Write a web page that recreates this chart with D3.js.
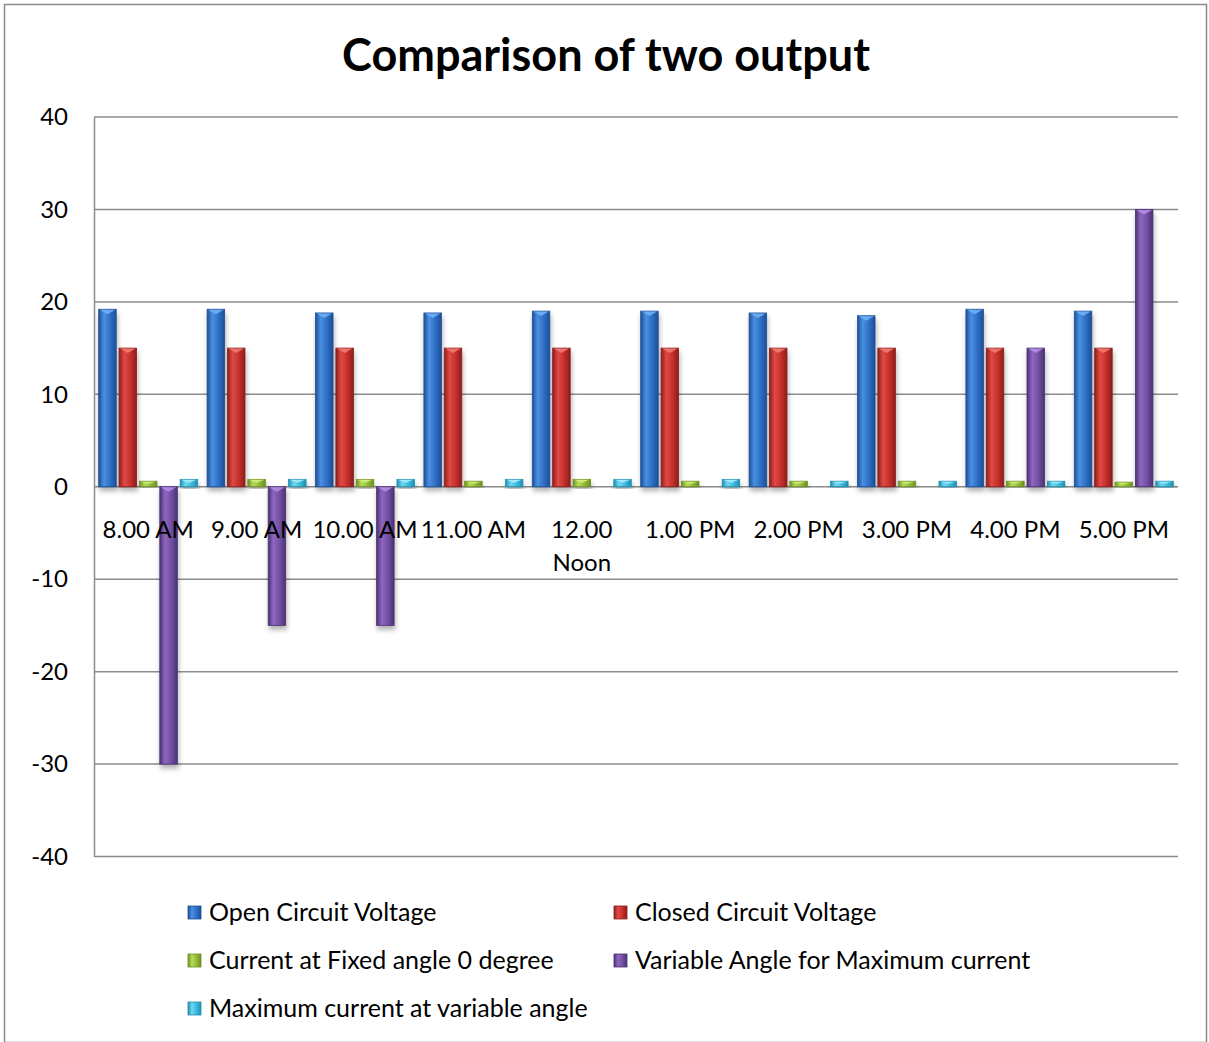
<!DOCTYPE html>
<html>
<head>
<meta charset="utf-8">
<script src="https://cdn.jsdelivr.net/npm/d3@7/dist/d3.min.js"></script>
<style>
  html, body { margin: 0; padding: 0; background: #fff; }
  svg { display: block; font-family: Lato, "Open Sans", sans-serif; }
</style>
</head>
<body>
<svg id="chart" width="1209" height="1042"></svg>
<script>
// Time slots along the x axis (multi-line labels split on "\n")
const categories = ["8.00 AM", "9.00 AM", "10.00 AM", "11.00 AM", "12.00\nNoon",
                    "1.00 PM", "2.00 PM", "3.00 PM", "4.00 PM", "5.00 PM"];

const seriesNames = [
  "Open Circuit Voltage",
  "Closed Circuit Voltage",
  "Current at Fixed angle 0 degree",
  "Variable Angle for Maximum current",
  "Maximum current at variable angle"
];

const openCircuitVoltage   = [19.2, 19.2, 18.8, 18.8, 19.0, 19.0, 18.8, 18.5, 19.2, 19.0];
const closedCircuitVoltage = [15, 15, 15, 15, 15, 15, 15, 15, 15, 15];
const currentFixedAngle    = [0.6, 0.8, 0.8, 0.6, 0.8, 0.6, 0.6, 0.6, 0.6, 0.5];
const variableAngle        = [-30, -15, -15, 0, 0, 0, 0, 0, 15, 30];
const maxCurrentVariable   = [0.8, 0.8, 0.8, 0.8, 0.8, 0.8, 0.6, 0.6, 0.6, 0.6];

const yTicks = [-40, -30, -20, -10, 0, 10, 20, 30, 40];

const seriesValues = [openCircuitVoltage, closedCircuitVoltage, currentFixedAngle,
                      variableAngle, maxCurrentVariable];

// Fill shades per series: [edge, highlight, body, tip]
const palette = [
  ["#1d4f98", "#4a90e2", "#2f6fc4", "#6fb0f5"],
  ["#8c1e1b", "#e04a45", "#c5302c", "#f07a72"],
  ["#6e8f22", "#b6dc5a", "#93bb3a", "#d2f07c"],
  ["#4b3174", "#8f67c0", "#7350a4", "#b38de6"],
  ["#1f8fb0", "#6fd8f2", "#3cbcdd", "#a6ecfb"]
];

const svg = d3.select("#chart");
const W = 1209, H = 1042;
const plot = { left: 94, right: 1178, top: 117, bottom: 856.5 };

const defs = svg.append("defs");
palette.forEach((c, i) => {
  const g = defs.append("linearGradient").attr("id", "grad" + i)
    .attr("x1", "0%").attr("x2", "100%").attr("y1", "0%").attr("y2", "0%");
  g.append("stop").attr("offset", "0%").attr("stop-color", c[0]);
  g.append("stop").attr("offset", "30%").attr("stop-color", c[1]);
  g.append("stop").attr("offset", "65%").attr("stop-color", c[2]);
  g.append("stop").attr("offset", "100%").attr("stop-color", c[0]);
});
const shadow = defs.append("filter").attr("id", "shadow")
  .attr("x", "-50%").attr("y", "-10%").attr("width", "200%").attr("height", "130%");
shadow.append("feDropShadow").attr("dx", 1).attr("dy", 4).attr("stdDeviation", 2.5)
  .attr("flood-color", "#000").attr("flood-opacity", 0.3);

// Outer frame
svg.append("rect").attr("x", 4.5).attr("y", 4.5).attr("width", W - 7).attr("height", H - 4)
  .attr("fill", "#fff").attr("stroke", "#8a8a8a").attr("stroke-width", 1.5);

// Title
svg.append("text").attr("x", 606).attr("y", 71).attr("text-anchor", "middle")
  .attr("font-size", 45).attr("font-weight", 700).attr("fill", "#000")
  .text("Comparison of two output");

const x = d3.scaleBand().domain(categories)
  .range([plot.left, plot.right]).paddingInner(0.087).paddingOuter(0.0435);
const xSub = d3.scaleBand().domain(d3.range(seriesNames.length))
  .range([0, x.bandwidth()]).paddingInner(0.14);
const y = d3.scaleLinear().domain([-40, 40]).range([plot.bottom, plot.top]);

// Gridlines
svg.append("g").selectAll("line").data(yTicks).join("line")
  .attr("x1", plot.left).attr("x2", plot.right)
  .attr("y1", d => y(d)).attr("y2", d => y(d))
  .attr("stroke", "#8c8c8c").attr("stroke-width", 1.5);

// Y axis
const yAxis = svg.append("g").attr("transform", `translate(${plot.left},0)`)
  .call(d3.axisLeft(y).tickValues(yTicks).tickSize(0).tickPadding(26).tickFormat(d => String(d)));
yAxis.select(".domain").attr("stroke", "#8c8c8c").attr("stroke-width", 1.5);
yAxis.selectAll("text").attr("font-size", 24).attr("fill", "#000")
  .attr("font-family", "Lato, sans-serif");

// Bars
const groups = svg.append("g").selectAll("g").data(categories).join("g")
  .attr("transform", d => `translate(${x(d)},0)`);

seriesValues.forEach((vals, si) => {
  const bw = xSub.bandwidth();
  groups.each(function (cat, ci) {
    const v = vals[ci];
    if (!v) return;
    const g = d3.select(this);
    const x0 = xSub(si);
    const yTop = y(Math.max(0, v));
    const h = Math.abs(y(v) - y(0));
    g.append("rect").attr("x", x0).attr("y", yTop).attr("width", bw).attr("height", h)
      .attr("fill", `url(#grad${si})`).attr("stroke", palette[si][0]).attr("stroke-width", 0.8)
      .attr("filter", "url(#shadow)");
    // bevelled cap highlight
    const th = Math.min(5, h * 0.45);
    g.append("path")
      .attr("d", `M${x0 + 1},${yTop + 0.5} L${x0 + bw - 1},${yTop + 0.5} L${x0 + bw / 2},${yTop + th} Z`)
      .attr("fill", palette[si][3]).attr("opacity", 0.9);
  });
});

// Category labels (drawn above bars)
const labels = svg.append("g").selectAll("text").data(categories).join("text")
  .attr("x", d => x(d) + x.bandwidth() / 2).attr("y", 538)
  .attr("text-anchor", "middle").attr("font-size", 24).attr("fill", "#000");
labels.each(function (d) {
  const t = d3.select(this);
  d.split("\n").forEach((line, i) => {
    t.append("tspan").attr("x", x(d) + x.bandwidth() / 2).attr("dy", i === 0 ? 0 : 33).text(line);
  });
});

// Legend
const legendPos = [[188, 912], [614, 912], [188, 960], [614, 960], [188, 1008]];
const legend = svg.append("g").selectAll("g").data(seriesNames).join("g")
  .attr("transform", (d, i) => `translate(${legendPos[i][0]},${legendPos[i][1]})`);
legend.append("rect").attr("x", 0).attr("y", -6).attr("width", 13).attr("height", 13)
  .attr("fill", (d, i) => `url(#grad${i})`).attr("stroke", (d, i) => palette[i][0]).attr("stroke-width", 0.8);
legend.append("text").attr("x", 21).attr("y", 8.5).attr("font-size", 25).attr("fill", "#000")
  .text(d => d);
</script>
</body>
</html>
